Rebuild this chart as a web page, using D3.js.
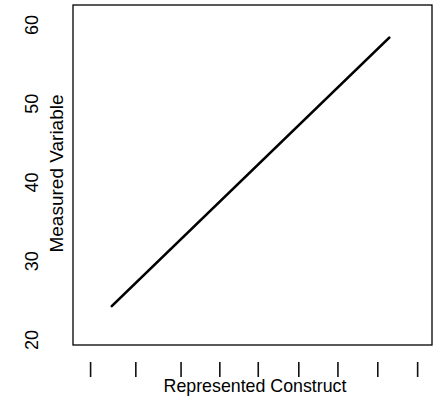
<!DOCTYPE html>
<html>
<head>
<meta charset="utf-8">
<script src="https://cdn.jsdelivr.net/npm/d3@7"></script>
<style>
  body { margin: 0; background: #fff; }
  text { font-family: "Liberation Sans", Arial, sans-serif; fill: #000; }
</style>
</head>
<body>
<div class="container"></div>
<script>
// values
const yTicks = [20, 30, 40, 50, 60];
const xTickPos = [4.9, 17.5, 30.1, 40.9, 51.6, 62.9, 73.8, 84.9, 96.0];
const lineX = [10.8, 88.1];
const lineY = [24.3, 58.4];

const width = 439, height = 399;
const box = { left: 73, right: 432, top: 5, bottom: 345 };

const svg = d3.select(".container")
    .append("svg")
    .attr("width", width)
    .attr("height", height);

const xScale = d3.scaleLinear().domain([0, 100]).range([box.left, box.right]);
const yScale = d3.scaleLinear().domain([20, 60]).range([340, 25]);

// plot frame
svg.append("rect")
    .attr("x", box.left)
    .attr("y", box.top)
    .attr("width", box.right - box.left)
    .attr("height", box.bottom - box.top)
    .attr("fill", "none")
    .attr("stroke", "#000")
    .attr("stroke-width", 1.3);

// y tick labels, rotated like base R
svg.selectAll(".ylab")
    .data(yTicks)
    .enter()
    .append("text")
    .attr("class", "ylab")
    .attr("transform", d => `translate(38, ${yScale(d)}) rotate(-90)`)
    .attr("text-anchor", "middle")
    .style("font-size", "18px")
    .text(d => d);

// x "ticks" drawn as bars under the frame
svg.selectAll(".xtick")
    .data(xTickPos)
    .enter()
    .append("line")
    .attr("class", "xtick")
    .attr("x1", d => xScale(d))
    .attr("x2", d => xScale(d))
    .attr("y1", 362)
    .attr("y2", 377)
    .attr("stroke", "#111")
    .attr("stroke-width", 1.6);

// axis titles
svg.append("text")
    .attr("x", 255)
    .attr("y", 392)
    .attr("text-anchor", "middle")
    .style("font-size", "17.8px")
    .text("Represented Construct");

svg.append("text")
    .attr("transform", "translate(63, 173.5) rotate(-90)")
    .attr("text-anchor", "middle")
    .style("font-size", "19px")
    .text("Measured Variable");

// the line
const pts = lineX.map((x, i) => [x, lineY[i]]);
svg.append("path")
    .datum(pts)
    .attr("fill", "none")
    .attr("stroke", "#000")
    .attr("stroke-width", 2.7)
    .attr("stroke-linecap", "round")
    .attr("d", d3.line().x(d => xScale(d[0])).y(d => yScale(d[1])));
</script>
</body>
</html>
